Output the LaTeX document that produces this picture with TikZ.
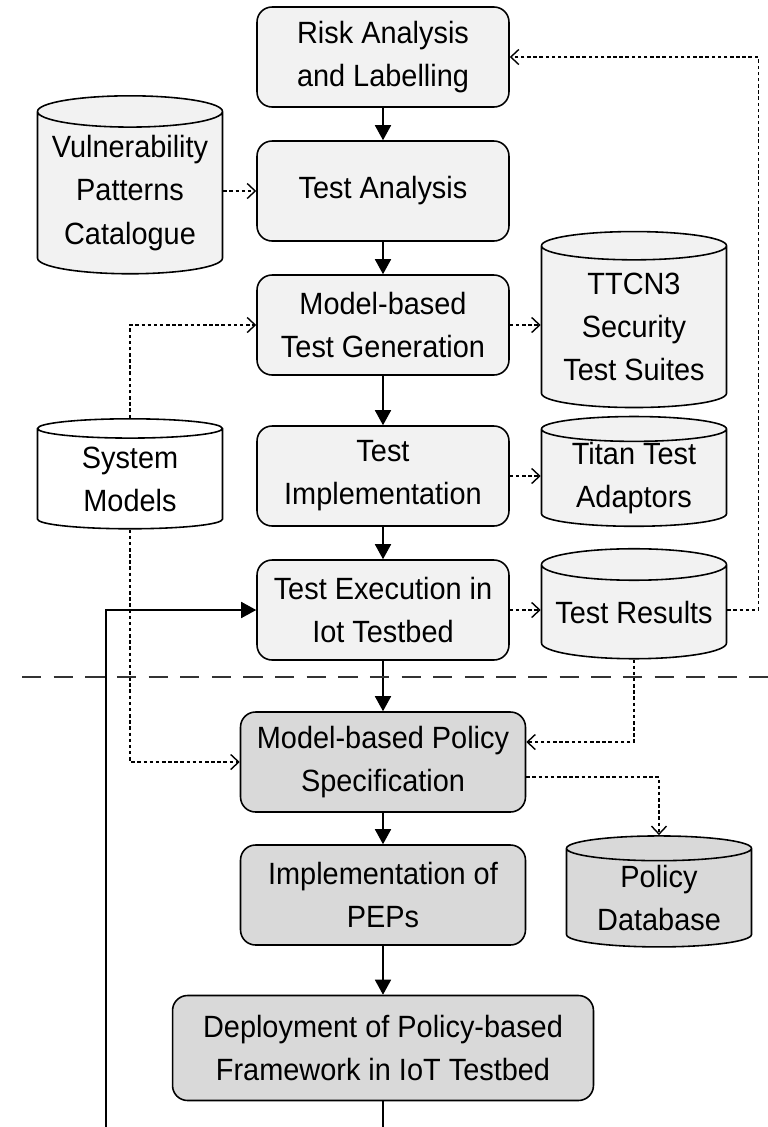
\documentclass[tikz,border=0pt]{standalone}
\usepackage{fontspec}
\setmainfont{Liberation Sans}[FakeStretch=0.94]
\usetikzlibrary{shapes.geometric,arrows.meta}
\definecolor{boxlight}{HTML}{F2F2F2}
\definecolor{boxdark}{HTML}{D9D9D9}

\begin{document}
\begin{tikzpicture}[x=0.02cm,y=-0.02cm,
	font=\fontsize{17.5}{24.5}\selectfont,
	proc/.style={draw, line width=0.9pt, rounded corners=0.3cm, fill=boxlight, align=center, minimum width=5.04cm, minimum height=2cm, inner sep=0pt},
	pol/.style={proc, fill=boxdark, minimum width=5.7cm},
	store/.style={draw, line width=0.9pt, cylinder, shape border rotate=90, shape aspect=0.2, fill=boxlight, align=center, minimum width=3.7cm, inner sep=0pt},
	flow/.style={line width=0.9pt, -{Triangle[length=3mm,width=3.2mm]}},
	data/.style={line width=0.8pt, dash pattern=on 2pt off 1.5pt, -{Straight Barb[length=1.6mm,width=3mm]}}]
	\useasboundingbox (0,0) rectangle (768,1127);

	\node[proc] (m1) at (383,57) {Risk Analysis\\and Labelling};
	\node[proc] (m2) at (383,191) {Test Analysis};
	\node[proc] (m3) at (383,325) {Model-based\\Test Generation};
	\node[proc] (m4) at (383,476) {Test\\Implementation};
	\node[proc] (m5) at (383,610) {Test Execution in\\Iot Testbed};
	\node[pol] (m6) at (383,762) {Model-based Policy\\Specification};
	\node[pol] (m7) at (383,895) {Implementation of\\PEPs};
	\node[pol, minimum width=8.42cm, minimum height=2.1cm] (m8) at (383,1048) {Deployment of Policy-based\\Framework in IoT Testbed};

	\node[store, minimum height=3.56cm] (l1) at (130,193) {Vulnerability\\Patterns\\Catalogue};
	\node[store, fill=white, minimum height=2.2cm] (l2) at (130,479) {System\\Models};
	\node[store, minimum height=3.52cm] (r1) at (634,327) {TTCN3\\Security\\Test Suites};
	\node[store, minimum height=2.14cm] (r2) at (634,478) {Titan Test\\Adaptors};
	\node[store, minimum height=2.2cm] (r3) at (634,612) {Test Results};
	\node[store, fill=boxdark, minimum height=2.22cm] (r4) at (659,898) {Policy\\Database};

	\coordinate (d1) at (383,1127);
	\coordinate (d2) at (106,1127);

	\draw[flow] (m1) -- (m2);
	\draw[flow] (m2) -- (m3);
	\draw[flow] (m3) -- (m4);
	\draw[flow] (m4) -- (m5);
	\draw[flow] (m5) -- (m6);
	\draw[flow] (m6) -- (m7);
	\draw[flow] (m7) -- (m8);
	\draw[line width=0.9pt] (m8) -- (d1);
	\draw[flow] (d2) |- (m5);

	\draw[data] (l1.east |- m2) -- (m2);
	\draw[data] (m3) -- (m3 -| r1.west);
	\draw[data] (m4) -- (m4 -| r2.west);
	\draw[data] (m5) -- (m5 -| r3.west);
	\draw[data] (r3.east |- m5) -- ++(31,0) |- (m1.east);
	\draw[data] (r3.south) |- ([yshift=4mm]m6.east);
	\draw[data] ([yshift=-3mm]m6.east) -| (r4.north);
	\draw[data] (l2.north) |- (m3);
	\draw[data] (l2.south) |- (m6);

	\draw[line width=0.8pt, black!80, dash pattern=on 11pt off 7pt] (22,677) -- (768,677);
\end{tikzpicture}
\end{document}
